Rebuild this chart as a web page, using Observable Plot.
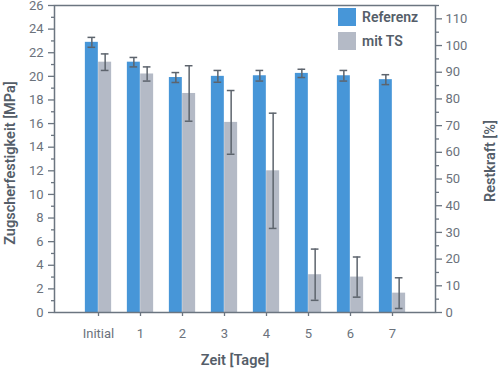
<!DOCTYPE html>
<html>
<head>
<meta charset="utf-8">
<script src="https://cdn.jsdelivr.net/npm/d3@7"></script>
<script src="https://cdn.jsdelivr.net/npm/@observablehq/plot@0.6"></script>
<style>
  html, body { margin: 0; padding: 0; background: #fff; }
  #wrap { position: relative; width: 500px; height: 370px; font-family: Roboto, "Noto Sans", sans-serif; }
  .legend { position: absolute; left: 338px; top: 8px; font-size: 14px; font-weight: 600; color: #555e69; }
  .legend .row { display: flex; align-items: center; height: 18px; margin-bottom: 5.5px; }
  .legend .sw { width: 18px; height: 18px; margin-right: 6px; }
</style>
</head>
<body>
<div id="wrap"></div>
<script>
const categories = ["Initial", "1", "2", "3", "4", "5", "6", "7"];
const referenz = [22.88, 21.2, 19.9, 20.0, 20.05, 20.25, 20.05, 19.72];
const referenzErr = [0.42, 0.4, 0.42, 0.5, 0.45, 0.35, 0.45, 0.42];
const mitTS = [21.2, 20.2, 18.55, 16.1, 12.0, 3.2, 3.0, 1.64];
const mitTSErr = [0.7, 0.6, 2.35, 2.7, 4.88, 2.17, 1.7, 1.3];
const leftTicks = d3.range(0, 27, 2);
const rightTicks = d3.range(0, 111, 10);
const seriesNames = ["Referenz", "mit TS"];
const colors = ["#4796d8", "#b4bac6"];

const yMax = 26, pctMax = 115;
const toMPa = p => p * yMax / pctMax;

const rows = [];
categories.forEach((c, i) => {
  rows.push({cat: c, series: seriesNames[0], v: referenz[i], e: referenzErr[i]});
  rows.push({cat: c, series: seriesNames[1], v: mitTS[i], e: mitTSErr[i]});
});
const refRows = rows.filter(d => d.series === seriesNames[0]);
const tsRows = rows.filter(d => d.series === seriesNames[1]);

const W = 500, H = 370, mL = 54, mR = 65, mT = 5, mB = 58;
const step = (W - mL - mR) / 9;
const half = step / 2;
const barW = 13.3;
const capW = 8;
const axisColor = "#6b7580";
const labelColor = "#6b727c";
const titleColor = "#555e69";

const chart = Plot.plot({
  width: W, height: H,
  marginLeft: mL, marginRight: mR, marginTop: mT, marginBottom: mB,
  style: {fontFamily: "Roboto, 'Noto Sans', sans-serif", fontSize: "13px", color: labelColor, background: "#fff"},
  x: {domain: categories, paddingInner: 0, paddingOuter: 0.5},
  y: {domain: [0, yMax]},
  marks: [
    Plot.barY(refRows, {x: "cat", y: "v", fill: colors[0], insetLeft: half - barW, insetRight: half}),
    Plot.barY(tsRows, {x: "cat", y: "v", fill: colors[1], insetLeft: half, insetRight: half - barW}),
    Plot.ruleX(refRows, {x: "cat", y1: d => d.v - d.e, y2: d => d.v + d.e, dx: -barW / 2, stroke: "#5d646d", strokeWidth: 1.5}),
    Plot.ruleX(tsRows, {x: "cat", y1: d => d.v - d.e, y2: d => d.v + d.e, dx: barW / 2, stroke: "#5d646d", strokeWidth: 1.5}),
    Plot.tickY(refRows, {x: "cat", y: d => d.v - d.e, stroke: "#5d646d", strokeWidth: 1.5, insetLeft: half - barW / 2 - capW / 2, insetRight: half + barW / 2 - capW / 2}),
    Plot.tickY(refRows, {x: "cat", y: d => d.v + d.e, stroke: "#5d646d", strokeWidth: 1.5, insetLeft: half - barW / 2 - capW / 2, insetRight: half + barW / 2 - capW / 2}),
    Plot.tickY(tsRows, {x: "cat", y: d => d.v - d.e, stroke: "#5d646d", strokeWidth: 1.5, insetLeft: half + barW / 2 - capW / 2, insetRight: half - barW / 2 - capW / 2}),
    Plot.tickY(tsRows, {x: "cat", y: d => d.v + d.e, stroke: "#5d646d", strokeWidth: 1.5, insetLeft: half + barW / 2 - capW / 2, insetRight: half - barW / 2 - capW / 2}),
    Plot.frame({stroke: axisColor, strokeWidth: 1.5}),
    // left axis
    Plot.axisY({anchor: "left", ticks: leftTicks, tickSize: 6, tickPadding: 5, stroke: axisColor, strokeWidth: 1.3, label: null, fill: labelColor}),
    Plot.axisY({anchor: "left", ticks: d3.range(1, 26, 2), tickSize: 3, text: null, stroke: axisColor, strokeWidth: 1.3, label: null}),
    // right axis (%)
    Plot.axisY({anchor: "right", ticks: rightTicks.map(toMPa), tickFormat: v => Math.round(v * pctMax / yMax), tickSize: 6, tickPadding: 4, stroke: axisColor, strokeWidth: 1.3, label: null, fill: labelColor}),
    Plot.axisY({anchor: "right", ticks: d3.range(5, 116, 10).map(toMPa), tickSize: 3, text: null, stroke: axisColor, strokeWidth: 1.3, label: null}),
    // x axis
    Plot.axisX({ticks: categories, tickSize: 4, tickPadding: 12, stroke: axisColor, strokeWidth: 1.3, label: null, fill: labelColor}),
    // axis titles
    Plot.text(["Zugscherfestigkeit [MPa]"], {frameAnchor: "left", textAnchor: "middle", dx: -44, dy: 4, rotate: -90, fontSize: 14.5, fontWeight: 600, fill: titleColor}),
    Plot.text(["Restkraft [%]"], {frameAnchor: "right", textAnchor: "middle", dx: 55, dy: 2, rotate: -90, fontSize: 14.5, fontWeight: 600, fill: titleColor}),
    Plot.text(["Zeit [Tage]"], {frameAnchor: "bottom", dx: -10, dy: 52, fontSize: 14.5, fontWeight: 600, fill: titleColor})
  ]
});

const wrap = document.getElementById("wrap");
wrap.appendChild(chart);
const legend = document.createElement("div");
legend.className = "legend";
seriesNames.forEach((name, i) => {
  const row = document.createElement("div");
  row.className = "row";
  const sw = document.createElement("div");
  sw.className = "sw";
  sw.style.background = colors[i];
  const t = document.createElement("span");
  t.textContent = name;
  row.appendChild(sw);
  row.appendChild(t);
  legend.appendChild(row);
});
wrap.appendChild(legend);
</script>
</body>
</html>
